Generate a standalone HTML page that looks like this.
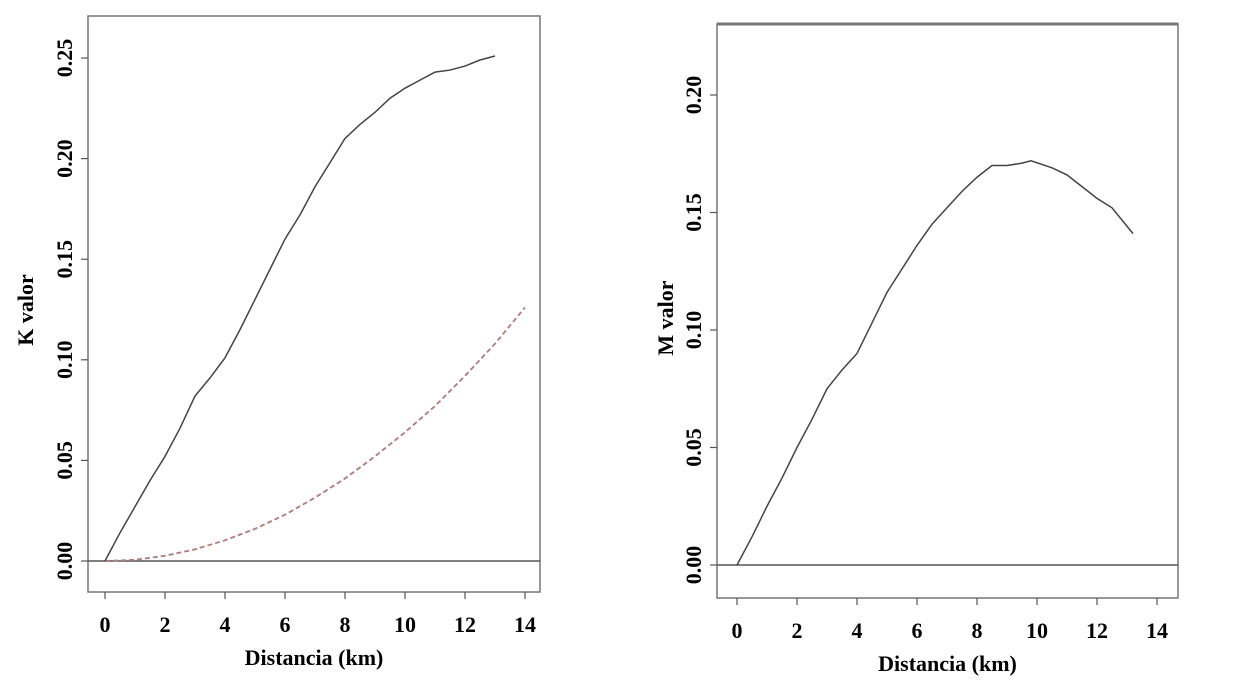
<!DOCTYPE html>
<html><head><meta charset="utf-8"><style>
body{margin:0;background:#fff;}
svg text{font-family:"Liberation Serif",serif;font-weight:bold;fill:#000;}
</style></head><body>
<svg width="1255" height="693" viewBox="0 0 1255 693">
<g id="left"></g>
<g id="right"></g>
</svg>
<script>
const kDist=[0,0.5,1,1.5,2,2.5,3,3.5,4,4.5,5,5.5,6,6.5,7,7.5,8,8.5,9,9.5,10,10.5,11,11.5,12,12.5,13];
const kObserved=[0,0.014,0.027,0.04,0.052,0.066,0.082,0.091,0.101,0.115,0.13,0.145,0.16,0.172,0.186,0.198,0.21,0.217,0.223,0.23,0.235,0.239,0.243,0.244,0.246,0.249,0.251];
const kExpDist=[0,1,2,3,4,5,6,7,8,9,10,11,12,13,14];
const kExpected=[0,0.0006,0.0026,0.0058,0.0103,0.016,0.023,0.0315,0.041,0.052,0.064,0.077,0.092,0.108,0.126];
const mDist=[0,0.5,1,1.5,2,2.5,3,3.5,4,4.5,5,5.5,6,6.5,7,7.5,8,8.5,9,9.5,9.8,10.5,11,11.5,12,12.5,13.2];
const mValues=[0,0.012,0.025,0.037,0.05,0.062,0.075,0.083,0.09,0.103,0.116,0.126,0.136,0.145,0.152,0.159,0.165,0.17,0.17,0.171,0.172,0.169,0.166,0.161,0.156,0.152,0.141];
const xTicks=[0,2,4,6,8,10,12,14];
const kTicks=[0,0.05,0.10,0.15,0.20,0.25];
const mTicks=[0,0.05,0.10,0.15,0.20];
const NS="http://www.w3.org/2000/svg";
function mk(p,t,a){const e=document.createElementNS(NS,t);for(const k in a)e.setAttribute(k,a[k]);p.appendChild(e);return e;}
function panel(g,o){
  const sx=v=>o.x0+v*30, sy=v=>o.y0-v*o.ppu;
  const box=mk(g,'rect',{x:o.bx,y:o.by,width:o.bw,height:o.bh,fill:'none',stroke:'#777','stroke-width':1.5});
  
  
  if(o.topThick){const t=mk(g,'line',{x1:o.bx,x2:o.bx+o.bw,y1:o.by,y2:o.by,stroke:'#777','stroke-width':3});
    }
  const z=mk(g,'line',{x1:o.bx,x2:o.bx+o.bw,y1:sy(0),y2:sy(0),stroke:'#555','stroke-width':1.5});
  
  const by=o.by+o.bh;
  xTicks.forEach(v=>{
    const l=mk(g,'line',{x1:sx(v),x2:sx(v),y1:by,y2:by+7,stroke:'#555','stroke-width':1.2});
    
    const t=mk(g,'text',{x:sx(v),y:by+40,'text-anchor':'middle','font-size':22});t.textContent=v;
    
  });
  o.ticks.forEach(v=>{
    const l=mk(g,'line',{x1:o.bx-7,x2:o.bx,y1:sy(v),y2:sy(v),stroke:'#555','stroke-width':1.2});
    
    const t=mk(g,'text',{x:o.bx-16,y:sy(v),'text-anchor':'middle','font-size':22,transform:`rotate(-90 ${o.bx-16} ${sy(v)})`});
    t.textContent=v.toFixed(2);
    
  });
  const xt=mk(g,'text',{x:o.bx+o.bw/2,y:by+73,'text-anchor':'middle','font-size':22});xt.textContent='Distancia (km)';
  
  const yt=mk(g,'text',{x:o.yl,y:o.ylc,'text-anchor':'middle','font-size':22,transform:`rotate(-90 ${o.yl} ${o.ylc})`});yt.textContent=o.ytitle;
  
  return {sx,sy};
}
function line(g,xs,ys,s,a,name){
  const p=mk(g,'polyline',Object.assign({points:xs.map((x,i)=>s.sx(x)+','+s.sy(ys[i])).join(' '),fill:'none'},a));
  
}
const L=document.getElementById('left'),R=document.getElementById('right');
const s1=panel(L,{bx:88,by:16,bw:452,bh:576,x0:105,y0:561,ppu:2012,ticks:kTicks,ytitle:'K valor',yl:33,ylc:310});
line(L,kExpDist,kExpected,s1,{stroke:'#b07b7b','stroke-width':1.8,'stroke-dasharray':'5 3'},'expected-k-line');
line(L,kDist,kObserved,s1,{stroke:'#444','stroke-width':1.5},'observed-k-line');
const s2=panel(R,{bx:717,by:24,bw:461,bh:574,x0:737,y0:565,ppu:2350,ticks:mTicks,ytitle:'M valor',yl:673,ylc:318,topThick:true});
line(R,mDist,mValues,s2,{stroke:'#444','stroke-width':1.5},'m-value-line');
</script>
</body></html>
